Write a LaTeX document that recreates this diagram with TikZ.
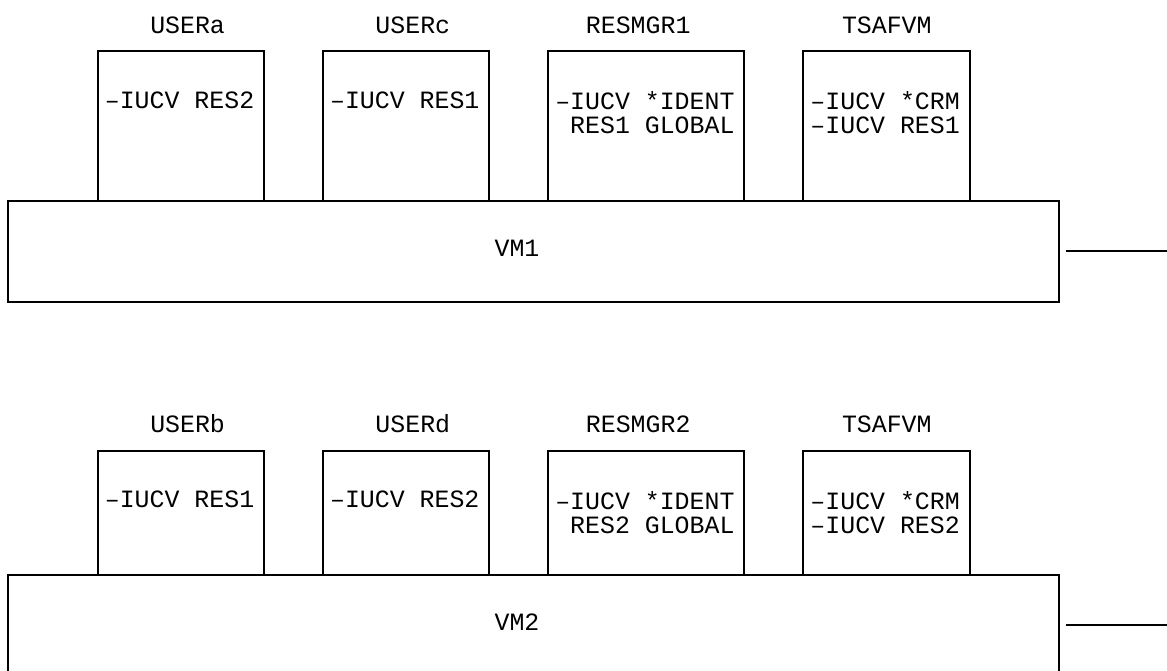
\documentclass[tikz,border=0pt]{standalone}
\usepackage{fontspec}
\setmonofont{Liberation Mono}
\usetikzlibrary{positioning}
\newcommand{\diafont}{\ttfamily\fontsize{17.7}{17.4}\selectfont}

\begin{document}
\begin{tikzpicture}[node distance=1.48cm, font=\diafont,
        vmbox/.style={rectangle, draw, line width=1.5pt, outer sep=0pt, inner sep=0pt, minimum width=26.27cm, minimum height=2.525cm},
        userbox/.style={rectangle, draw, line width=1.5pt, outer sep=0pt, inner sep=0pt, minimum width=4.15cm, minimum height=#1},
        username/.style={anchor=base, yshift=0.45cm, font=\diafont},
        boxtext/.style={anchor=north west, align=left, inner sep=0pt, xshift=0.17cm, yshift=-1.0cm, font=\diafont},
        vmname/.style={xshift=-0.42cm, yshift=0.08cm, font=\diafont},
        line/.style={draw, line width=1.5pt}]

    \useasboundingbox (0,0) rectangle (29.175,-16.775);

    \node [vmbox, label={[vmname]center:VM1}] (vm1) at (13.345,-6.28) {};
    \node [vmbox, below=6.83cm of vm1, label={[vmname]center:VM2}] (vm2) {};

    \node [userbox=3.74cm, anchor=south west, label={[username, xshift=0.17cm]north:USERa}, label={[boxtext]north west:{–IUCV RES2}}] (usera) at ([xshift=2.235cm]vm1.north west) {};
    \node [userbox=3.74cm, right=of usera, label={[username, xshift=0.17cm]north:USERc}, label={[boxtext]north west:{–IUCV RES1}}] (userc) {};
    \node [userbox=3.74cm, minimum width=4.9cm, right=of userc, label={[username, xshift=-0.2cm]north:RESMGR1}, label={[boxtext]north west:{–IUCV *IDENT\\\phantom{R}RES1 GLOBAL}}] (resmgra) {};
    \node [userbox=3.74cm, minimum width=4.17cm, right=of resmgra, label={[username]north:TSAFVM}, label={[boxtext]north west:{–IUCV *CRM\\–IUCV RES1}}] (tsafa) {};

    \node [userbox=3.1cm, anchor=south west, label={[username, xshift=0.17cm]north:USERb}, label={[boxtext]north west:{–IUCV RES1}}] (userb) at ([xshift=2.235cm]vm2.north west) {};
    \node [userbox=3.1cm, right=of userb, label={[username, xshift=0.17cm]north:USERd}, label={[boxtext]north west:{–IUCV RES2}}] (userd) {};
    \node [userbox=3.1cm, minimum width=4.9cm, right=of userd, label={[username, xshift=-0.2cm]north:RESMGR2}, label={[boxtext]north west:{–IUCV *IDENT\\\phantom{R}RES2 GLOBAL}}] (resmgrb) {};
    \node [userbox=3.1cm, minimum width=4.17cm, right=of resmgrb, label={[username]north:TSAFVM}, label={[boxtext]north west:{–IUCV *CRM\\–IUCV RES2}}] (tsafb) {};

    \coordinate (vm1end) at ([xshift=2.75cm]vm1.east);
    \coordinate (vm2end) at ([xshift=2.75cm]vm2.east);
    \path [line] ([xshift=0.17cm]vm1.east) -- (vm1end);
    \path [line] ([xshift=0.17cm]vm2.east) -- (vm2end);
\end{tikzpicture}
\end{document}
